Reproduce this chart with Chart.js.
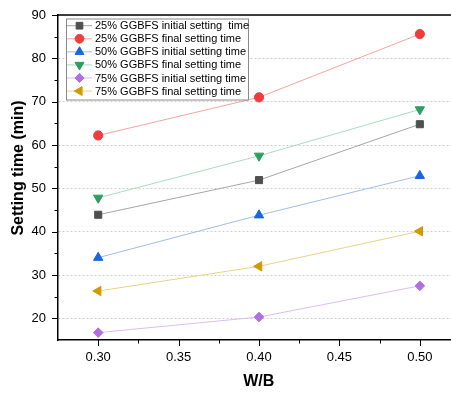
<!DOCTYPE html>
<html><head><meta charset="utf-8">
<script src="https://cdn.jsdelivr.net/npm/chart.js@4.4.1/dist/chart.umd.min.js"></script>
<style>html,body{margin:0;padding:0;overflow:hidden;background:#fff}#wrap{width:451px;height:395px;overflow:hidden;position:relative}canvas{display:block}</style>
</head><body><div id="wrap"><canvas id="c" width="460" height="395"></canvas></div>
<script>
// ---- data ----
const wb = [0.30, 0.40, 0.50];
const seriesLabels = [
  '25% GGBFS initial setting  time',
  '25% GGBFS final setting time',
  '50% GGBFS initial setting time',
  '50% GGBFS final setting time',
  '75% GGBFS initial setting time',
  '75% GGBFS final setting time'
];
const s25Initial = [43.9, 51.9, 64.8];
const s25Final   = [62.2, 71.0, 85.6];
const s50Initial = [34.0, 43.8, 52.9];
const s50Final   = [47.8, 57.5, 68.2];
const s75Initial = [16.7, 20.3, 27.5];
const s75Final   = [26.3, 32.0, 40.1];
const yTicks = [20, 30, 40, 50, 60, 70, 80, 90];
const yMinorTicks = [25, 35, 45, 55, 65, 75, 85];
const xTicks = [0.30, 0.35, 0.40, 0.45, 0.50];
const xMinorTicks = [0.325, 0.375, 0.425, 0.475];
const xTitle = 'W/B';
const yTitle = 'Setting time (min)';

const FONT = '"Liberation Sans", Arial, Helvetica, sans-serif';
Chart.defaults.font.family = FONT;

const styles = [
  {marker:'#4f4f4f', line:'#a6a6a6', pointStyle:'rect', radius:5.0, rotation:0},
  {marker:'#f03c3c', line:'#f5a3a3', pointStyle:'circle', radius:4.6, rotation:0},
  {marker:'#1a66e0', line:'#9dbdf0', pointStyle:'triangle', radius:5.4, rotation:0},
  {marker:'#2e9e5e', line:'#a9dcc0', pointStyle:'triangle', radius:5.4, rotation:180},
  {marker:'#b26ee0', line:'#dcbdf2', pointStyle:'rectRot', radius:4.8, rotation:0},
  {marker:'#d19a00', line:'#ecd08a', pointStyle:'triangle', radius:5.4, rotation:270}
];
const allSeries = [s25Initial, s25Final, s50Initial, s50Final, s75Initial, s75Final];

const datasets = allSeries.map((vals, i) => ({
  label: seriesLabels[i],
  data: wb.map((x, j) => ({x: x, y: vals[j]})),
  borderColor: styles[i].line,
  borderWidth: 1,
  backgroundColor: styles[i].marker,
  pointBackgroundColor: styles[i].marker,
  pointBorderColor: styles[i].marker,
  pointBorderWidth: 1,
  pointStyle: styles[i].pointStyle,
  pointRadius: styles[i].radius,
  pointRotation: styles[i].rotation,
  tension: 0,
  fill: false
}));

const decor = {
  id: 'decor',
  afterDraw(chart) {
    const ctx = chart.ctx;
    const xs = chart.scales.x, ys = chart.scales.y;
    const a = chart.chartArea;
    ctx.save();
    // top border
    ctx.strokeStyle = '#000';
    ctx.lineWidth = 1.5;
    ctx.beginPath();
    ctx.moveTo(a.left - 0.75, a.top);
    ctx.lineTo(chart.width, a.top);
    ctx.stroke();
    // ticks
    ctx.lineWidth = 1;
    ctx.beginPath();
    yTicks.forEach(v => { const p = Math.round(ys.getPixelForValue(v)) + 0.5; ctx.moveTo(a.left - 6, p); ctx.lineTo(a.left, p); });
    yMinorTicks.forEach(v => { const p = Math.round(ys.getPixelForValue(v)) + 0.5; ctx.moveTo(a.left - 3.5, p); ctx.lineTo(a.left, p); });
    xTicks.forEach(v => { const p = Math.round(xs.getPixelForValue(v)) + 0.5; ctx.moveTo(p, a.bottom); ctx.lineTo(p, a.bottom + 6); });
    xMinorTicks.forEach(v => { const p = Math.round(xs.getPixelForValue(v)) + 0.5; ctx.moveTo(p, a.bottom); ctx.lineTo(p, a.bottom + 3.5); });
    ctx.stroke();
    // axis titles
    ctx.fillStyle = '#000';
    ctx.font = 'bold 16px ' + FONT;
    ctx.textAlign = 'center';
    ctx.textBaseline = 'middle';
    ctx.fillText(xTitle, 258.7, 382);
    ctx.save();
    ctx.translate(18.5, 168);
    ctx.rotate(-Math.PI / 2);
    ctx.fillText(yTitle, 0, 0);
    ctx.restore();
    // legend
    const bx = 66, by = 18.5, bw = 182, bh = 81;
    ctx.fillStyle = '#fff';
    ctx.fillRect(bx, by, bw, bh);
    ctx.strokeStyle = '#8a8a8a';
    ctx.lineWidth = 1;
    ctx.strokeRect(bx + 0.5, by + 0.5, bw, bh);
    ctx.font = '11px ' + FONT;
    ctx.textAlign = 'left';
    ctx.textBaseline = 'middle';
    styles.forEach((s, i) => {
      const y = 25.7 + i * 13.07;
      ctx.strokeStyle = s.line;
      ctx.lineWidth = 1;
      ctx.beginPath();
      ctx.moveTo(67, y); ctx.lineTo(92, y);
      ctx.stroke();
      ctx.fillStyle = s.marker;
      ctx.strokeStyle = s.marker;
      Chart.helpers.drawPoint(ctx, {pointStyle: s.pointStyle, radius: s.radius * 0.95, rotation: s.rotation, borderWidth: 1}, 79.5, y);
      ctx.fillStyle = '#000';
      ctx.fillText(seriesLabels[i], 95, y + 0.5);
    });
    ctx.restore();
  }
};

new Chart(document.getElementById('c'), {
  type: 'line',
  data: { datasets },
  options: {
    responsive: false,
    animation: false,
    devicePixelRatio: 1,
    layout: { padding: { top: 15, right: 0, left: 0, bottom: 0 } },
    plugins: { legend: { display: false }, tooltip: { enabled: false } },
    scales: {
      x: {
        type: 'linear',
        min: 0.275, max: 0.521,
        afterBuildTicks(s) { s.ticks = xTicks.map(v => ({value: v})); },
        afterFit(s) { s.height = 55; s.paddingLeft = 0; s.paddingRight = 0; },
        grid: { display: false, drawTicks: false },
        border: { display: true, color: '#000', width: 1.5 },
        ticks: { color: '#000', font: { size: 13, lineHeight: 1.2 }, padding: 10, maxRotation: 0,
                 callback: v => Number(v).toFixed(2) }
      },
      y: {
        type: 'linear',
        min: 15, max: 90,
        afterBuildTicks(s) { s.ticks = yTicks.map(v => ({value: v})); },
        afterFit(s) { s.width = 58; s.paddingTop = 0; s.paddingBottom = 0; },
        grid: { display: true, drawTicks: false, color: '#cfcfcf', lineWidth: 1, tickLength: 0 },
        border: { display: true, color: '#000', width: 1.5, dash: [2, 2] },
        ticks: { color: '#000', font: { size: 13, lineHeight: 0.1 }, padding: 12 }
      }
    }
  },
  plugins: [decor]
});
</script>
</body></html>
